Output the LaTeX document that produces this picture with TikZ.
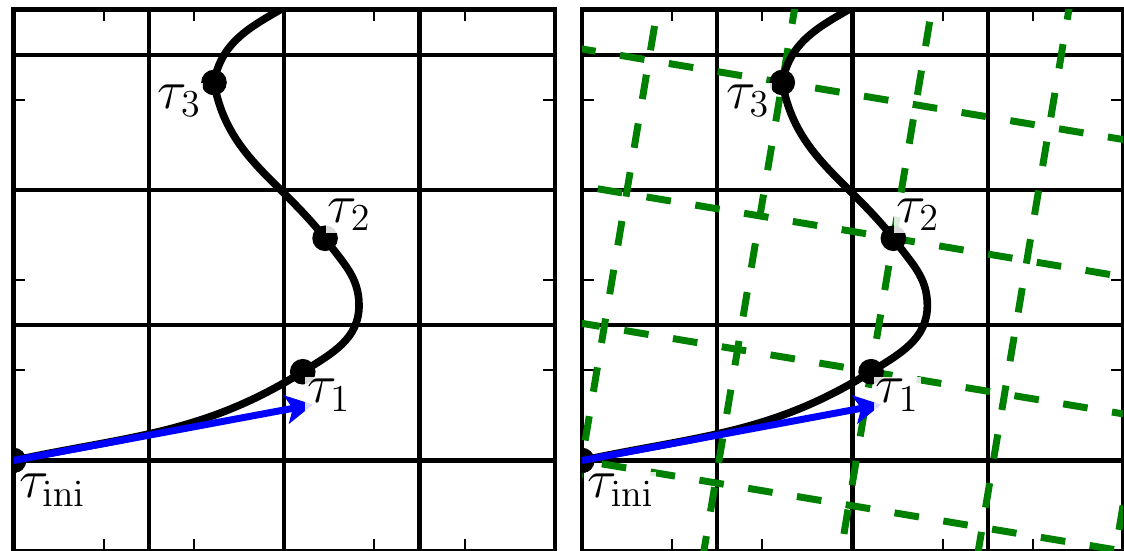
\documentclass[tikz,border=0pt]{standalone}
\usepackage{amsmath}
\usetikzlibrary{arrows.meta,calc}

\begin{document}
\begin{tikzpicture}[
    gridline/.style={line width=1.3pt},
    tickmark/.style={line width=0.6pt},
    rotgrid/.style={green!50!black, line width=2.2pt, dash pattern=on 7.8pt off 7.8pt},
    curveline/.style={line width=2.4pt},
    vecarrow/.style={blue, line width=2.2pt, -{Stealth[length=8.5pt,width=9pt,inset=2pt]}},
    tlabel/.style={fill=white, fill opacity=0.85, text opacity=1, inner sep=0.6pt, font=\fontsize{17.5}{21}\selectfont}
]
\useasboundingbox (-0.15,-0.003) rectangle (12.31,6.105);

% frames, grid and ticks of both panels
\foreach \s in {0,6.3} {
  \begin{scope}[xshift=\s cm]
    \foreach \g in {1.5,3,4.5} \draw[gridline] (\g,0) -- (\g,6);
    \foreach \g in {1,2.5,4,5.5} \draw[gridline] (0,\g) -- (6,\g);
    \foreach \t in {1,...,5} {
      \draw[tickmark] (\t,0) -- (\t,0.13);
      \draw[tickmark] (\t,6) -- (\t,5.87);
      \draw[tickmark] (0,\t) -- (0.13,\t);
      \draw[tickmark] (6,\t) -- (5.87,\t);
    }
    \draw[gridline] (0,0) rectangle (6,6);
  \end{scope}
}

% rotated grid (right panel only)
\begin{scope}
  \clip (6.3,0) rectangle (12.3,6);
  \begin{scope}[shift={(6.3,1)}, rotate=-9.5]
    \foreach \k in {-4,...,6} {
      \draw[rotgrid] (1.5*\k,-8) -- (1.5*\k,8);
      \draw[rotgrid] (-8,1.5*\k) -- (8,1.5*\k);
    }
  \end{scope}
\end{scope}

% path, points, vector and labels
\foreach \s/\p in {0/a,6.3/b} {
  \begin{scope}[xshift=\s cm]
    \begin{scope}[shift={(0,1)}, rotate=-9.5, scale=1.5]
      \coordinate (ini\p) at (0,0);
      \coordinate (t1\p) at (2,1);
      \coordinate (t2\p) at (2,2);
      \coordinate (t3\p) at (1,3);
    \end{scope}
    \coordinate (bend\p) at (3.83,2.72);
    \coordinate (exit\p) at (3.3,6.21);
    \coordinate (tip\p) at (3.32,1.62);
    \begin{scope}
      \clip (0,0) rectangle (6,6);
      \draw[curveline] (ini\p) to[out=12,in=212] (t1\p) to[out=32,in=-90] (bend\p)
        to[out=90,in=-55] (t2\p) to[out=128,in=-80] (t3\p) to[out=80,in=215] (exit\p);
      \foreach \q in {ini,t1,t2,t3} \filldraw (\q\p) circle (0.135);
      \draw[vecarrow] (ini\p) -- (tip\p);
    \end{scope}
    \node[tlabel] (lini\p) at ($(ini\p)+(0.43,-0.33)$) {$\tau_{\mathrm{ini}}$};
    \node[tlabel] (l1\p) at ($(t1\p)+(0.29,-0.26)$) {$\tau_1$};
    \node[tlabel] (l2\p) at ($(t2\p)+(0.27,0.26)$) {$\tau_2$};
    \node[tlabel] (l3\p) at ($(t3\p)+(-0.38,-0.2)$) {$\tau_3$};
  \end{scope}
}
\end{tikzpicture}
\end{document}
